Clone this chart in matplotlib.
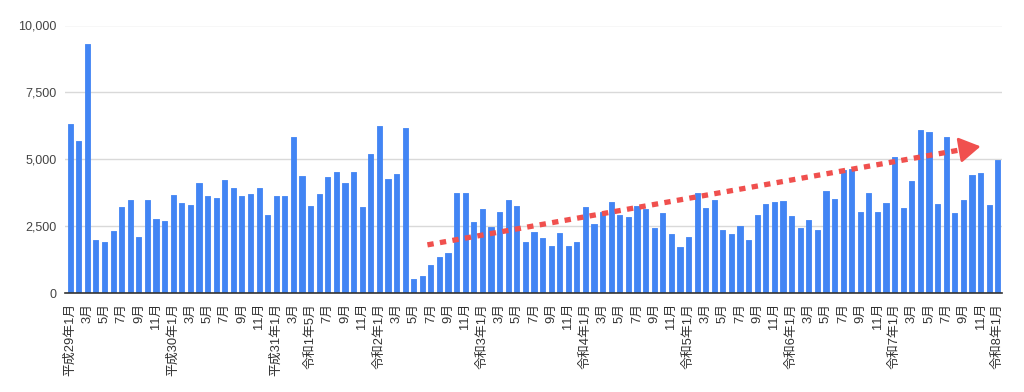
import matplotlib.pyplot as plt
import numpy as np

# monthly values, 平成29年1月 (Jan 2017) .. 令和8年1月 (Jan 2026)
values_2017 = [6330, 5700, 9290, 1990, 1890, 2315, 3210, 3485, 2080, 3485, 2750, 2675]
values_2018 = [3660, 3350, 3300, 4130, 3610, 3560, 4230, 3920, 3610, 3700, 3920, 2900]
values_2019 = [3610, 3610, 5815, 4360, 3260, 3700, 4320, 4510, 4130, 4510, 3210, 5180]
values_2020 = [6250, 4270, 4445, 6160, 535, 620, 1060, 1330, 1480, 3720, 3720, 2665]
values_2021 = [3140, 2465, 3010, 3485, 3260, 1890, 2280, 2040, 1770, 2240, 1770, 1890]
values_2022 = [3210, 2590, 3010, 3410, 2900, 2825, 3260, 3140, 2430, 2990, 2205, 1720]
values_2023 = [2080, 3735, 3175, 3485, 2355, 2190, 2500, 1965, 2900, 3335, 3410, 3450]
values_2024 = [2865, 2430, 2740, 2355, 3800, 3525, 4580, 4620, 3010, 3720, 3010, 3375]
values_2025 = [5100, 3160, 4195, 6100, 6000, 3335, 5850, 2975, 3485, 4395, 4470, 3285]
values_2026 = [4980]

values = (values_2017 + values_2018 + values_2019 + values_2020 + values_2021
          + values_2022 + values_2023 + values_2024 + values_2025 + values_2026)

# one label for every second month
tick_labels = [
    "平成29年1月", "3月", "5月", "7月", "9月", "11月",
    "平成30年1月", "3月", "5月", "7月", "9月", "11月",
    "平成31年1月", "3月", "令和1年5月", "7月", "9月", "11月",
    "令和2年1月", "3月", "5月", "7月", "9月", "11月",
    "令和3年1月", "3月", "5月", "7月", "9月", "11月",
    "令和4年1月", "3月", "5月", "7月", "9月", "11月",
    "令和5年1月", "3月", "5月", "7月", "9月", "11月",
    "令和6年1月", "3月", "5月", "7月", "9月", "11月",
    "令和7年1月", "3月", "5月", "7月", "9月", "11月",
    "令和8年1月",
]

y_ticks = [0, 2500, 5000, 7500, 10000]

# trend arrow (data coords: bar index, value)
arrow_start = (41.6, 1800)
arrow_base = (104.0, 5370)
arrow_tip = (106.0, 5480)

BLUE = "#4285F4"
RED = "#F0504E"

fig = plt.figure(figsize=(10.24, 3.92), dpi=100)
ax = fig.add_axes([65 / 1024, 99 / 392, 937 / 1024, 267.5 / 392])

x = np.arange(len(values))
ax.bar(x, values, width=0.6, color=BLUE, edgecolor=BLUE, linewidth=0.6,
       joinstyle="round", zorder=2)

ax.plot([arrow_start[0], arrow_base[0]], [arrow_start[1], arrow_base[1]],
        color=RED, lw=3.8, linestyle=(0, (1.2, 1.2)),
        dash_capstyle="butt", zorder=3)
ax.annotate("", xy=arrow_tip, xytext=arrow_base,
            arrowprops=dict(arrowstyle="-|>,head_length=1.0,head_width=0.6",
                            color=RED, lw=2, shrinkA=0, shrinkB=0,
                            mutation_scale=13, joinstyle="round"),
            zorder=3)

ax.set_xlim(-0.6, len(values) - 0.5)
ax.set_ylim(0, 10000)

ax.set_yticks(y_ticks)
ax.set_yticklabels([f"{v:,}" for v in y_ticks], family=["Liberation Sans"],
                   fontsize=9, color="#444444")
ax.set_xticks(x[::2])
ax.set_xticklabels(tick_labels, rotation=90, va="top", ha="center",
                   family=["Liberation Sans", "Noto Sans CJK JP"],
                   fontsize=9.3, color="#333333")
ax.tick_params(axis="both", length=0)
ax.tick_params(axis="y", pad=6)
ax.tick_params(axis="x", pad=7)

ax.grid(axis="y", color="#D9D9D9", linewidth=1.0, zorder=0)
for side in ["top", "right", "left"]:
    ax.spines[side].set_visible(False)
ax.spines["bottom"].set_color("#333333")
ax.spines["bottom"].set_linewidth(1.2)
ax.spines["bottom"].set_zorder(4)

fig.savefig("out.png", dpi=100)
plt.close(fig)
